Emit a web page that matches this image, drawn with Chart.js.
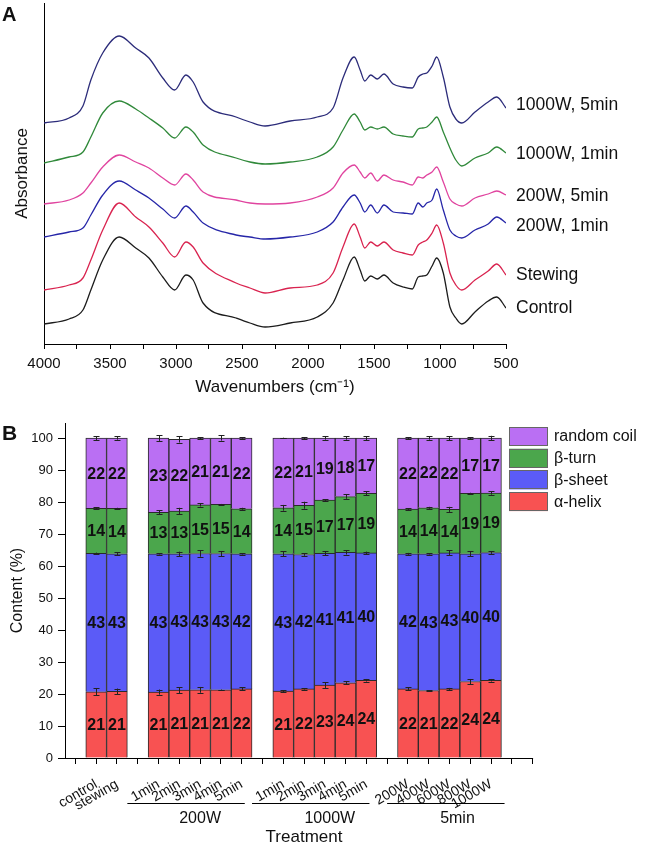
<!DOCTYPE html>
<html><head><meta charset="utf-8">
<script src="https://cdn.jsdelivr.net/npm/chart.js@4.4.1/dist/chart.umd.min.js"></script>
<style>
html,body{margin:0;padding:0;background:#fff;}
#wrap{position:relative;width:646px;height:848px;background:#fff;}
#cA{position:absolute;left:0;top:0;}
#cB{position:absolute;left:0;top:405px;}
</style></head><body>
<div id="wrap"><canvas id="cA" width="646" height="405"></canvas><canvas id="cB" width="646" height="443"></canvas></div>
<script>
const FONT = "'Liberation Sans', Arial, sans-serif";

// ---------- Panel A: FTIR spectra (absorbance, arbitrary offset units) ----------
const wavenumbers = [4000,3810,3705,3645,3555,3430,3305,3205,3100,3010,2925,2870,2795,2545,2440,2325,2135,1930,1810,1735,1650,1605,1570,1525,1475,1425,1355,1280,1210,1165,1130,1100,1060,1025,975,925,880,835,735,635,570,500];
const spectrumNames = ['Control','Stewing','200W, 1min','200W, 5min','1000W, 1min','1000W, 5min'];
const absControl = [20,25,34,54,84,107,96,86,67,54,69,64,41,26,21,17,21,27,41,64,87,74,63,68,65,69,61,57,55,67,68,69,78,86,71,37,26,20,32,43,47,36];
const absStewing = [54,59,66,84,114,141,127,117,101,87,102,97,81,61,56,51,56,59,71,97,120,107,96,102,98,102,94,91,89,99,102,104,111,119,101,71,59,54,64,73,80,69];
const abs200W1 = [107,112,116,129,149,163,154,146,135,126,138,132,121,109,107,105,107,112,122,137,149,141,132,139,131,139,132,131,130,141,137,141,144,155,134,114,108,106,114,120,127,121];
const abs200W5 = [140,144,151,161,177,189,182,176,166,159,170,164,152,144,141,140,141,147,156,171,179,172,166,171,163,169,164,162,159,167,166,169,172,177,162,145,140,138,146,150,153,149];
const abs1000W1 = [181,187,192,207,231,243,235,226,216,206,217,212,199,186,182,180,182,187,197,214,230,222,214,217,215,217,210,208,207,215,216,217,222,227,212,196,184,178,186,191,197,191];
const abs1000W5 = [221,226,238,264,291,308,296,286,266,254,269,262,242,227,222,218,223,227,236,266,287,274,263,269,265,270,260,257,256,267,270,271,278,287,267,237,225,221,232,242,247,236];
const xTicksA = [4000,3500,3000,2500,2000,1500,1000,500];

const specSeries = [absControl, absStewing, abs200W1, abs200W5, abs1000W1, abs1000W5];
const specColors = ['#1c1c1c','#d9234f','#2626a8','#e0449f','#30893a','#2c2c7a'];
const specLabelNudge = [0, 0, 3, 1, 1, -3];

const panelAPlugin = {
  id: 'panelA',
  afterDraw(chart) {
    const ctx = chart.ctx, ys = chart.scales.y;
    ctx.save();
    ctx.fillStyle = '#111';
    ctx.font = 'bold 20px ' + FONT;
    ctx.textAlign = 'left'; ctx.textBaseline = 'alphabetic';
    ctx.fillText('A', 2, 21);
    ctx.font = '17.5px ' + FONT;
    ctx.textBaseline = 'middle';
    chart.data.datasets.forEach((ds, i) => {
      const last = ds.data[ds.data.length - 1].y;
      ctx.fillText(ds.label, 516, ys.getPixelForValue(last) + specLabelNudge[i]);
    });
    ctx.restore();
  }
};

new Chart(document.getElementById('cA'), {
  type: 'line',
  data: {
    datasets: specSeries.map((s, i) => ({
      label: spectrumNames[i],
      data: wavenumbers.map((w, j) => ({ x: w, y: s[j] })),
      borderColor: specColors[i],
      borderWidth: 1.3,
      pointRadius: 0,
      cubicInterpolationMode: 'monotone',
      fill: false
    }))
  },
  options: {
    responsive: false, animation: false,
    layout: { padding: { left: 0, right: 140, top: 3, bottom: 0 } },
    plugins: { legend: { display: false }, tooltip: { enabled: false } },
    scales: {
      x: {
        type: 'linear', reverse: true, min: 500, max: 4000,
        afterFit: s => { s.height = 61; },
        ticks: { stepSize: 250, autoSkip: false, maxRotation: 0,
          callback: v => xTicksA.includes(v) ? String(v) : '',
          font: { family: FONT, size: 15 }, color: '#111', padding: 6 },
        grid: { drawOnChartArea: false, tickLength: 5, color: '#000' },
        border: { color: '#000', width: 1 },
        title: { display: true, text: 'Wavenumbers (cm\u207B\u00B9)', font: { family: FONT, size: 17 }, color: '#111', padding: { top: 0, bottom: 7 } }
      },
      y: {
        min: 0, max: 341,
        afterFit: s => { s.width = 44; },
        ticks: { display: false },
        grid: { drawOnChartArea: false, drawTicks: false },
        border: { color: '#000', width: 1 },
        title: { display: true, text: 'Absorbance', font: { family: FONT, size: 17 }, color: '#111', padding: { top: 12, bottom: 0 } }
      }
    }
  },
  plugins: [panelAPlugin]
});

// ---------- Panel B: secondary structure content ----------
const categories = ['control','stewing','1min','2min','3min','4min','5min','1min','2min','3min','4min','5min','200W','400W','600W','800W','1000W'];
const groupNames = ['', '200W', '1000W', '5min'];
const groupSizes = [2, 5, 5, 5];
const seriesNames = ['\u03B1-helix', '\u03B2-sheet', '\u03B2-turn', 'random coil'];
const helix = [20.7,20.8,20.6,21.2,21.3,21.3,21.6,20.9,21.6,22.8,23.5,24.3,21.6,21.1,21.6,23.9,24.3];
const sheet = [43.3,43.0,43.2,42.6,42.6,42.6,42.2,42.9,42.0,41.2,40.8,39.8,42.2,42.7,42.5,39.9,39.9];
const turn  = [14.0,14.2,13.0,13.4,15.2,15.4,14.1,14.4,15.4,16.6,17.4,18.6,14.0,14.4,13.6,18.9,18.6];
const coil  = [22.0,22.0,23.2,22.4,20.9,20.7,22.1,21.8,21.0,19.4,18.3,17.3,22.2,21.8,22.3,17.3,17.2];
const helixErr = [1.1,0.9,0.8,0.9,0.9,0.1,0.5,0.3,0.2,0.9,0.5,0.4,0.5,0.1,0.3,0.8,0.4];
const sheetErr = [0.2,0.5,0.2,0.7,1.0,0.8,0.2,0.8,0.4,0.7,0.7,0.4,0.3,0.2,0.8,0.8,0.4];
const turnErr  = [0.3,0.2,0.6,1.0,0.5,0.1,0.3,0.9,1.1,0.3,0.7,0.6,0.3,0.3,0.8,0.2,0.5];
const coilErr  = [0.6,0.5,0.9,1.0,0.3,0.8,0.2,0.1,0.3,0.5,0.5,0.6,0.3,0.5,0.6,0.3,0.7];
const yTicksB = [0,10,20,30,40,50,60,70,80,90,100];
const barColors = ['#f85252','#5b5bf7','#4ba64c','#ba6ff3'];

// slot table: blank column before each group, plus trailing blanks
const slotLabels = [''];
const slotOfCat = [];
const groupSlots = [];
let ci = 0;
groupSizes.forEach(n => {
  const first = slotLabels.length;
  for (let k = 0; k < n; k++) { slotOfCat.push(slotLabels.length); slotLabels.push(categories[ci++]); }
  groupSlots.push([first, slotLabels.length - 1]);
  slotLabels.push('');
});
slotLabels.push('');
const expand = arr => { const out = slotLabels.map(() => null); arr.forEach((v, k) => { out[slotOfCat[k]] = v; }); return out; };
const seriesB = [helix, sheet, turn, coil];
const errsB = [helixErr, sheetErr, turnErr, coilErr];

const panelBPlugin = {
  id: 'panelB',
  afterDatasetsDraw(chart) {
    const ctx = chart.ctx, ys = chart.scales.y;
    const ppu = ys.getPixelForValue(0) - ys.getPixelForValue(1);
    ctx.save();
    // error bars
    ctx.strokeStyle = '#222'; ctx.lineWidth = 1;
    chart.data.datasets.forEach((ds, d) => {
      const meta = chart.getDatasetMeta(d);
      slotOfCat.forEach((slot, k) => {
        const el = meta.data[slot]; if (!el) return;
        const e = errsB[d][k] * ppu, x = Math.round(el.x) + 0.5, y = el.y;
        ctx.beginPath();
        ctx.moveTo(x, y - e); ctx.lineTo(x, y + e);
        ctx.moveTo(x - 3, Math.round(y - e) + 0.5); ctx.lineTo(x + 3, Math.round(y - e) + 0.5);
        ctx.moveTo(x - 3, Math.round(y + e) + 0.5); ctx.lineTo(x + 3, Math.round(y + e) + 0.5);
        ctx.stroke();
      });
    });
    // value labels
    ctx.fillStyle = '#111';
    ctx.font = 'bold 16px ' + FONT;
    ctx.textAlign = 'center'; ctx.textBaseline = 'middle';
    chart.data.datasets.forEach((ds, d) => {
      const meta = chart.getDatasetMeta(d);
      slotOfCat.forEach((slot, k) => {
        const el = meta.data[slot]; if (!el) return;
        ctx.fillText(String(Math.round(seriesB[d][k])), el.x, (el.y + el.base) / 2 + 1);
      });
    });
    ctx.restore();
  },
  afterDraw(chart) {
    const ctx = chart.ctx, xs = chart.scales.x, ca = chart.chartArea;
    ctx.save();
    // x axis line up to last slot
    ctx.strokeStyle = '#000'; ctx.lineWidth = 1;
    ctx.beginPath();
    ctx.moveTo(ca.left, Math.round(ca.bottom) + 0.5);
    ctx.lineTo(xs.getPixelForValue(slotLabels.length - 1) + 0.5, Math.round(ca.bottom) + 0.5);
    ctx.stroke();
    // group lines and names
    const ext = [null, [-1.5, 0.15], [-1.5, 0.15], [-1.0, 0.65]];
    const shift = [0, 0, 5, 8];
    ctx.fillStyle = '#111';
    ctx.font = '16px ' + FONT;
    ctx.textAlign = 'center'; ctx.textBaseline = 'middle';
    groupNames.forEach((name, g) => {
      if (!name) return;
      const [a, b] = groupSlots[g];
      const x0 = xs.getPixelForValue(a + ext[g][0]), x1 = xs.getPixelForValue(b + ext[g][1]);
      const yl = Math.round(ca.bottom + 45) + 0.5;
      ctx.beginPath(); ctx.moveTo(x0, yl); ctx.lineTo(x1, yl); ctx.stroke();
      ctx.fillText(name, xs.getPixelForValue((a + b) / 2) + shift[g], ca.bottom + 61);
    });
    // panel letter
    ctx.font = 'bold 21px ' + FONT;
    ctx.textAlign = 'left'; ctx.textBaseline = 'alphabetic';
    ctx.fillText('B', 2, 35);
    // legend
    const items = chart.data.datasets.map(ds => ({ label: ds.label, color: ds.backgroundColor })).reverse();
    ctx.font = '16px ' + FONT;
    ctx.textBaseline = 'middle';
    items.forEach((it, i) => {
      const by = 22 + i * 21.7;
      ctx.fillStyle = it.color;
      ctx.fillRect(509, by, 39, 19);
      ctx.strokeStyle = '#666';
      ctx.strokeRect(509.5, Math.round(by) + 0.5, 38, 18);
      ctx.fillStyle = '#111';
      ctx.fillText(it.label, 554, by + 10);
    });
    ctx.restore();
  }
};

new Chart(document.getElementById('cB'), {
  type: 'bar',
  data: {
    labels: slotLabels,
    datasets: seriesB.map((s, d) => ({
      label: seriesNames[d],
      data: expand(s),
      backgroundColor: barColors[d],
      borderColor: '#2b2b2b',
      borderWidth: { top: 1, left: 1, right: 1, bottom: 0 },
      borderSkipped: false,
      barPercentage: 1, categoryPercentage: 1
    }))
  },
  options: {
    responsive: false, animation: false,
    layout: { padding: { left: 0, right: 103, top: 18, bottom: 0 } },
    plugins: { legend: { display: false }, tooltip: { enabled: false } },
    scales: {
      x: {
        stacked: true, offset: true,
        grid: { offset: false, drawOnChartArea: false, tickLength: 6, color: '#000' },
        border: { display: false },
        ticks: { autoSkip: false, minRotation: 30, maxRotation: 30, padding: 12, font: { family: FONT, size: 14 }, color: '#111' },
        afterFit: s => { s.height = 90; },
        title: { display: true, text: 'Treatment', font: { family: FONT, size: 17 }, color: '#111', padding: { top: 0, bottom: 0 } }
      },
      y: {
        stacked: true, min: 0, max: 104.7,
        afterBuildTicks: s => { s.ticks = yTicksB.map(v => ({ value: v })); },
        ticks: { font: { family: FONT, size: 13 }, color: '#111', padding: 5 },
        grid: { drawOnChartArea: false, tickLength: 7, color: '#000' },
        border: { color: '#000', width: 1 },
        afterFit: s => { s.width = 65; },
        title: { display: true, text: 'Content (%)', font: { family: FONT, size: 16 }, color: '#111', padding: { top: 8, bottom: 0 } }
      }
    }
  },
  plugins: [panelBPlugin]
});
</script>
</body></html>
